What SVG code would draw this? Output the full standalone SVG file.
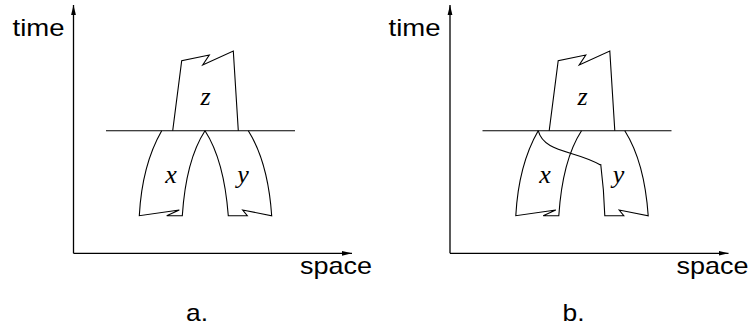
<svg xmlns="http://www.w3.org/2000/svg" width="752" height="329" viewBox="0 0 752 329">
<defs>
<marker id="arr" viewBox="0 0 10 6" refX="10" refY="3" markerWidth="10" markerHeight="6" markerUnits="userSpaceOnUse" orient="auto">
<path d="M0,0.6 L10,3 L0,5.4 Z" fill="#000"/>
</marker>
</defs>
<style>
.ln{fill:none;stroke:#000;stroke-width:1.1;stroke-linejoin:miter}
.ax{fill:none;stroke:#000;stroke-width:1.3}
.sans{font-family:"Liberation Sans",Arial,sans-serif;font-size:24px;fill:#000}
.var{font-family:"Liberation Serif","Times New Roman",serif;font-style:italic;font-size:26px;fill:#000;text-anchor:middle}
</style>
<g id="panel-a">
<g id="axes-a">
<line class="ax" x1="73.5" y1="253.3" x2="73.5" y2="5" marker-end="url(#arr)"/>
<line class="ax" x1="73.5" y1="253.3" x2="352" y2="253.3" marker-end="url(#arr)"/>
<text class="sans" x="12.5" y="36" textLength="52" lengthAdjust="spacingAndGlyphs">time</text>
<text class="sans" x="300" y="274" textLength="72" lengthAdjust="spacingAndGlyphs">space</text>
<text class="sans" x="186" y="321" textLength="22" lengthAdjust="spacingAndGlyphs">a.</text>
</g>
<g id="connectors-a">
<line class="ln" x1="106" y1="130.7" x2="295" y2="130.7"/>
</g>
<g id="z-a">
<path class="ln" d="M172.7,130.7 L181.7,60.7 L209.3,55 L202.7,65 L233.3,51 L238.3,130.7"/>
<text class="var" x="205.5" y="105">z</text>
</g>
<g id="x-a">
<path class="ln" d="M161.7,130.7 Q142,165 139.3,215.7 L179.3,210 L166.7,215.7 L182.3,215.7 Q186,160 205,130.7"/>
<text class="var" x="171" y="183.3">x</text>
</g>
<g id="y-a">
<path class="ln" d="M205,130.7 Q224,160 228.3,215.7 L247.3,215.7 L242.7,210 L271.7,215.7 Q268,162 248.3,130.7"/>
<text class="var" x="243" y="183.3">y</text>
</g>
</g>
<g id="panel-b">
<g id="axes-b">
<line class="ax" x1="450" y1="253.3" x2="450" y2="5" marker-end="url(#arr)"/>
<line class="ax" x1="450" y1="253.3" x2="728.5" y2="253.3" marker-end="url(#arr)"/>
<text class="sans" x="388.5" y="36" textLength="52" lengthAdjust="spacingAndGlyphs">time</text>
<text class="sans" x="676.5" y="274" textLength="72" lengthAdjust="spacingAndGlyphs">space</text>
<text class="sans" x="562.5" y="321" textLength="22" lengthAdjust="spacingAndGlyphs">b.</text>
</g>
<g id="connectors-b">
<line class="ln" x1="482.5" y1="130.7" x2="671.5" y2="130.7"/>
<path class="ln" d="M538.2,130.7 C544,153 575,150 600.5,165"/>
</g>
<g id="z-b">
<path class="ln" d="M549.2,130.7 L558.2,60.7 L585.8,55 L579.2,65 L609.8,51 L614.8,130.7"/>
<text class="var" x="582.5" y="105">z</text>
</g>
<g id="x-b">
<path class="ln" d="M538.2,130.7 Q518.5,165 515.8,215.7 L555.8,210 L543.2,215.7 L558.8,215.7 Q562.5,160 581.5,130.7"/>
<text class="var" x="545" y="183.3">x</text>
</g>
<g id="y-b">
<path class="ln" d="M600.7,164 Q604,190 604.8,215.7 L623.8,215.7 L619.2,210 L648.2,215.7 Q644.5,162 624.8,130.7"/>
<text class="var" x="618.5" y="183.3">y</text>
</g>
</g>
</svg>
